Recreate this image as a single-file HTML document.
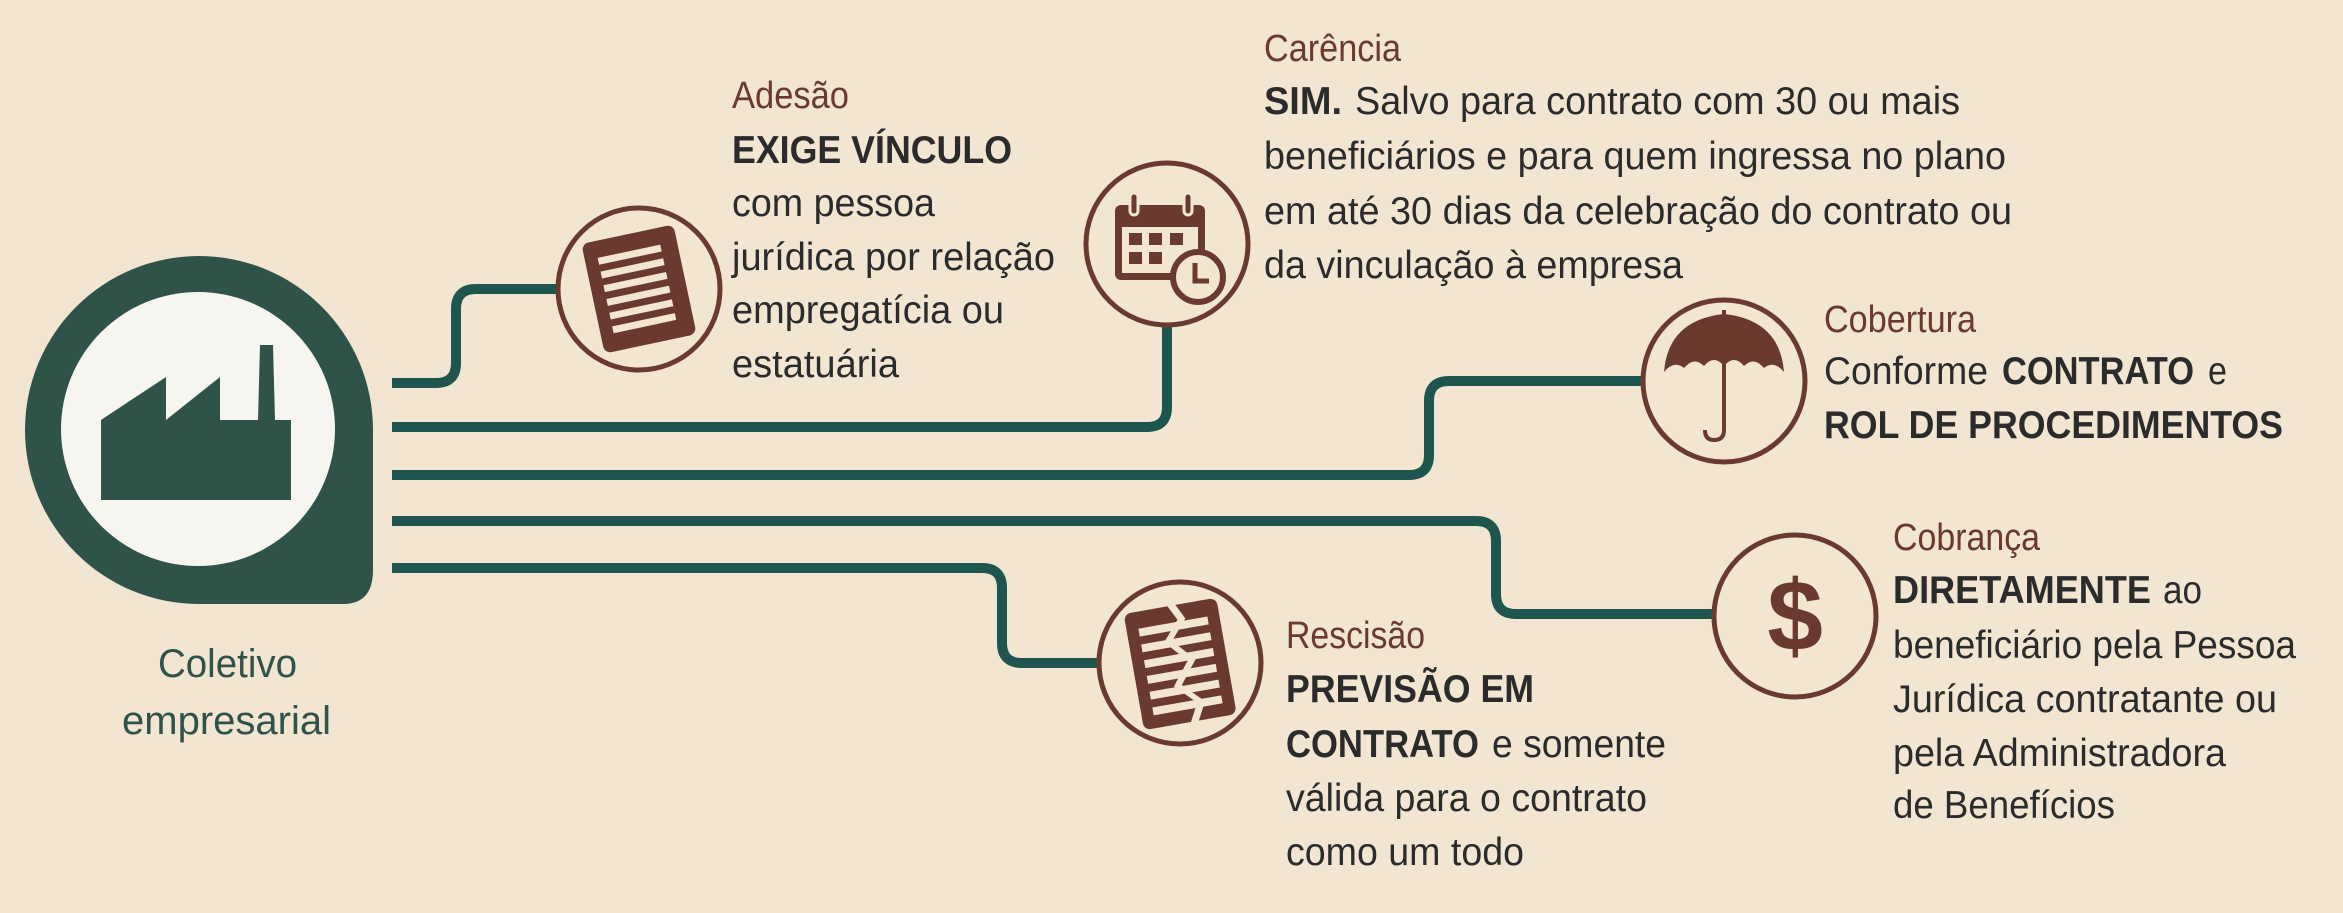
<!DOCTYPE html>
<html><head><meta charset="utf-8"><style>
html,body{margin:0;padding:0;background:#f2e5d2;}
svg{display:block}
text{font-family:"Liberation Sans",sans-serif;}
.t{fill:#6b3a2f;font-size:38px}
.b{fill:#2b2b2b;font-size:39px}
.k{font-weight:bold}
</style></head><body>
<svg width="2343" height="913" viewBox="0 0 2343 913" xmlns="http://www.w3.org/2000/svg">
<rect width="2343" height="913" fill="#f2e5d2"/>
<!-- pin -->
<path d="M199 256 A174 174 0 1 0 199 604 L343 604 Q373 604 373 570 L373 430 A174 174 0 0 0 199 256 Z" fill="#2f5249"/>
<circle cx="198" cy="429" r="137" fill="#f6f5f0"/>
<path d="M101 500 L101 420 L166 377 L166 420 L220 377 L220 420 L258 420 L260 345 L273 345 L275 420 L291 420 L291 500 Z" fill="#2f5249"/>
<text x="158" y="677" textLength="139" lengthAdjust="spacingAndGlyphs" style="font-size:40px;fill:#2f5249">Coletivo</text>
<text x="122" y="734" textLength="209" lengthAdjust="spacingAndGlyphs" style="font-size:40px;fill:#2f5249">empresarial</text>
<!-- lines -->
<g fill="none" stroke="#1e564f" stroke-width="10">
<path d="M392 383 L436 383 Q456 383 456 363 L456 309 Q456 289 476 289 L558 289"/>
<path d="M392 427 L1147 427 Q1167 427 1167 407 L1167 326"/>
<path d="M392 475 L1409 475 Q1429 475 1429 455 L1429 401 Q1429 381 1449 381 L1644 381"/>
<path d="M392 521 L1476 521 Q1496 521 1496 541 L1496 594 Q1496 614 1516 614 L1715 614"/>
<path d="M392 568 L982 568 Q1002 568 1002 588 L1002 643 Q1002 663 1022 663 L1098 663"/>
</g>
<!-- circles -->
<g fill="#f2e5d2" stroke="#6b3a2f" stroke-width="5">
<circle cx="639" cy="289" r="81"/>
<circle cx="1167" cy="244" r="81"/>
<circle cx="1724" cy="381" r="81"/>
<circle cx="1795" cy="616" r="81"/>
<circle cx="1180" cy="663" r="81"/>
</g>
<!-- doc icon -->
<g transform="rotate(-12 639 289)">
<rect x="592" y="233" width="94" height="112" rx="7" fill="#6b3a2f"/>
<g fill="#f2e5d2"><rect x="605" y="250" width="64" height="7"/><rect x="605" y="264" width="64" height="7"/><rect x="605" y="278" width="64" height="7"/><rect x="605" y="292" width="64" height="7"/><rect x="605" y="306" width="64" height="7"/><rect x="605" y="320" width="64" height="7"/></g>
</g>
<!-- calendar -->
<g>
<rect x="1115" y="205" width="90" height="75" rx="6" fill="#6b3a2f"/>
<rect x="1122" y="227" width="76" height="46" fill="#f2e5d2"/>
<rect x="1130" y="193" width="8" height="22" rx="4" fill="#6b3a2f" stroke="#f2e5d2" stroke-width="3"/>
<rect x="1184" y="193" width="8" height="22" rx="4" fill="#6b3a2f" stroke="#f2e5d2" stroke-width="3"/>
<g fill="#6b3a2f"><rect x="1129" y="233" width="13" height="12"/><rect x="1149" y="233" width="13" height="12"/><rect x="1170" y="233" width="13" height="12"/><rect x="1129" y="252" width="13" height="12"/><rect x="1149" y="252" width="13" height="12"/></g>
<circle cx="1198" cy="277" r="25" fill="#f2e5d2" stroke="#6b3a2f" stroke-width="6"/>
<path d="M1195 263 L1195 281 L1209 281" fill="none" stroke="#6b3a2f" stroke-width="5"/>
</g>
<!-- umbrella -->
<path d="M1664 372 Q1668 320 1724 314 Q1780 320 1784 372 Q1774 360 1764 368 Q1754 356 1744 366 Q1734 354 1724 366 Q1714 354 1704 366 Q1694 356 1684 368 Q1674 360 1664 372 Z" fill="#6b3a2f"/>
<path d="M1724 310 L1724 430 Q1724 440 1714 440 Q1705 440 1705 430" fill="none" stroke="#6b3a2f" stroke-width="4"/>
<!-- dollar -->
<text x="1795" y="650" text-anchor="middle" style="font-weight:bold;font-size:100px;fill:#6b3a2f">$</text>
<!-- torn doc -->
<g transform="rotate(-10 1180 663)">
<rect x="1133" y="605" width="94" height="118" rx="7" fill="#6b3a2f"/>
<g fill="#f2e5d2"><rect x="1145" y="622" width="70" height="8"/><rect x="1145" y="638" width="70" height="8"/><rect x="1145" y="654" width="70" height="8"/><rect x="1145" y="670" width="70" height="8"/><rect x="1145" y="686" width="70" height="8"/><rect x="1145" y="702" width="70" height="8"/></g>
<path d="M1175 600 L1185 620 L1168 640 L1188 662 L1170 685 L1190 705 L1178 728 L1186 728 L1198 705 L1178 685 L1196 662 L1176 640 L1193 620 L1183 600 Z" fill="#f2e5d2"/>
</g>
<!-- texts -->
<g lengthAdjust="spacingAndGlyphs">
<text x="732" y="108" class="t" textLength="117" lengthAdjust="spacingAndGlyphs">Adesão</text>
<text x="732" y="163" class="b k" textLength="280" lengthAdjust="spacingAndGlyphs">EXIGE VÍNCULO</text>
<text x="732" y="216" class="b" textLength="203" lengthAdjust="spacingAndGlyphs">com pessoa</text>
<text x="732" y="270" class="b" textLength="323" lengthAdjust="spacingAndGlyphs">jurídica por relação</text>
<text x="732" y="323" class="b" textLength="272" lengthAdjust="spacingAndGlyphs">empregatícia ou</text>
<text x="732" y="377" class="b" textLength="167" lengthAdjust="spacingAndGlyphs">estatuária</text>

<text x="1264" y="61" class="t" textLength="137" lengthAdjust="spacingAndGlyphs">Carência</text>
<text x="1264" y="114" class="b k" textLength="78" lengthAdjust="spacingAndGlyphs">SIM.</text>
<text x="1355" y="114" class="b" textLength="605" lengthAdjust="spacingAndGlyphs">Salvo para contrato com 30 ou mais</text>
<text x="1264" y="169" class="b" textLength="742" lengthAdjust="spacingAndGlyphs">beneficiários e para quem ingressa no plano</text>
<text x="1264" y="224" class="b" textLength="748" lengthAdjust="spacingAndGlyphs">em até 30 dias da celebração do contrato ou</text>
<text x="1264" y="278" class="b" textLength="419" lengthAdjust="spacingAndGlyphs">da vinculação à empresa</text>

<text x="1824" y="332" class="t" textLength="152" lengthAdjust="spacingAndGlyphs">Cobertura</text>
<text x="1824" y="384" class="b" textLength="164" lengthAdjust="spacingAndGlyphs">Conforme</text>
<text x="2002" y="384" class="b k" textLength="192" lengthAdjust="spacingAndGlyphs">CONTRATO</text>
<text x="2208" y="384" class="b" textLength="19" lengthAdjust="spacingAndGlyphs">e</text>
<text x="1824" y="438" class="b k" textLength="459" lengthAdjust="spacingAndGlyphs">ROL DE PROCEDIMENTOS</text>

<text x="1893" y="550" class="t" textLength="147" lengthAdjust="spacingAndGlyphs">Cobrança</text>
<text x="1893" y="603" class="b k" textLength="258" lengthAdjust="spacingAndGlyphs">DIRETAMENTE</text>
<text x="2163" y="603" class="b" textLength="39" lengthAdjust="spacingAndGlyphs">ao</text>
<text x="1893" y="658" class="b" textLength="403" lengthAdjust="spacingAndGlyphs">beneficiário pela Pessoa</text>
<text x="1893" y="712" class="b" textLength="384" lengthAdjust="spacingAndGlyphs">Jurídica contratante ou</text>
<text x="1893" y="766" class="b" textLength="333" lengthAdjust="spacingAndGlyphs">pela Administradora</text>
<text x="1893" y="818" class="b" textLength="222" lengthAdjust="spacingAndGlyphs">de Benefícios</text>

<text x="1286" y="648" class="t" textLength="139" lengthAdjust="spacingAndGlyphs">Rescisão</text>
<text x="1286" y="702" class="b k" textLength="248" lengthAdjust="spacingAndGlyphs">PREVISÃO EM</text>
<text x="1286" y="757" class="b k" textLength="193" lengthAdjust="spacingAndGlyphs">CONTRATO</text>
<text x="1492" y="757" class="b" textLength="174" lengthAdjust="spacingAndGlyphs">e somente</text>
<text x="1286" y="811" class="b" textLength="361" lengthAdjust="spacingAndGlyphs">válida para o contrato</text>
<text x="1286" y="865" class="b" textLength="238" lengthAdjust="spacingAndGlyphs">como um todo</text>
</g>
</svg>
</body></html>
